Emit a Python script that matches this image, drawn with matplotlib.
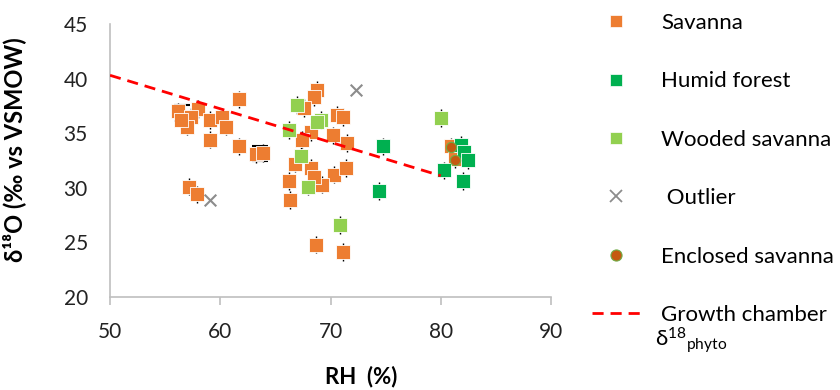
import numpy as np
import matplotlib
matplotlib.use("Agg")
import matplotlib.pyplot as plt
from matplotlib.lines import Line2D

plt.rcParams['font.family'] = ['Lato', 'DejaVu Sans']
plt.rcParams['mathtext.fontset'] = 'custom'
plt.rcParams['mathtext.rm'] = 'Lato'
plt.rcParams['mathtext.it'] = 'Lato:italic'
plt.rcParams['mathtext.bf'] = 'Lato:bold'

# =========================
# data (RH %, d18O permil)
# =========================
savanna_rh = [56.2, 58.0, 57.3, 57.0, 56.4, 59.1, 60.2, 60.5, 59.1, 61.7, 61.7,
              63.2, 63.9, 57.2, 57.9,
              68.8, 68.5, 67.6, 70.6, 71.1, 68.2, 67.4, 70.2, 71.5, 66.8,
              68.2, 70.3, 71.4, 69.2, 68.5, 66.2, 66.3, 68.7, 71.1,
              80.9, 81.3]
savanna_d18o = [37.0, 37.2, 36.5, 35.6, 36.2, 36.2, 36.5, 35.6, 34.4, 38.1, 33.8,
                33.1, 33.2, 30.1, 29.4,
                39.0, 38.3, 37.3, 36.7, 36.5, 35.1, 34.4, 34.8, 34.1, 32.2,
                31.8, 31.2, 31.8, 30.3, 31.0, 30.6, 28.9, 24.8, 24.1,
                33.8, 32.6]

humid_rh = [74.8, 74.4, 81.8, 82.1, 82.5, 80.3, 82.0]
humid_d18o = [33.8, 29.7, 33.9, 33.3, 32.5, 31.6, 30.6]

wooded_rh = [67.0, 69.1, 68.8, 66.2, 67.3, 68.0, 70.9, 80.0]
wooded_d18o = [37.6, 36.2, 36.0, 35.3, 32.9, 30.1, 26.6, 36.4]

outlier_rh = [59.1, 72.3]
outlier_d18o = [28.9, 39.0]

enclosed_rh = [80.9, 81.3]
enclosed_d18o = [33.7, 32.5]

# growth chamber relation (end points)
chamber_rh = [50, 80]
chamber_d18o = [40.3, 31.1]

# points with wide error caps
capped_rh = [56.5, 63.6]
capped_d18o = [36.85, 33.15]

C_SAV = "#ED7D31"
C_HUM = "#00B050"
C_WOOD = "#92D050"
C_OUT = "#8C8C8C"
C_ENC = "#C55A11"
C_AX = "#BFBFBF"

fig = plt.figure(figsize=(8.4, 3.9), dpi=100)
ax = fig.add_axes([0.131, 0.2385, 0.525, 0.70])

# small vertical error bars peeking out under the squares
for xs, ys in [(savanna_rh, savanna_d18o), (humid_rh, humid_d18o), (wooded_rh, wooded_d18o)]:
    ax.errorbar(xs, ys, yerr=0.8, fmt="none", ecolor="black", elinewidth=1.0,
                capsize=0, zorder=1)
ax.errorbar(capped_rh, capped_d18o, yerr=0.7, fmt="none", ecolor="black",
            elinewidth=1.0, capsize=6, capthick=1.5, zorder=1)

ax.plot(chamber_rh, chamber_d18o, color="red", ls=(0, (4, 2.5)), lw=2, zorder=5)

sq = dict(marker="s", s=105, edgecolors="white", linewidths=0.6)
ax.scatter(savanna_rh, savanna_d18o, color=C_SAV, zorder=3, **sq)
ax.scatter(wooded_rh, wooded_d18o, color=C_WOOD, zorder=4, **sq)
ax.scatter(humid_rh, humid_d18o, color=C_HUM, zorder=4, **sq)
ax.scatter(outlier_rh, outlier_d18o, color=C_OUT, marker="x", s=70, linewidths=1.5, zorder=4)
ax.scatter(enclosed_rh, enclosed_d18o, color=C_ENC, marker="o", s=55,
           edgecolors="#70AD47", linewidths=0.8, zorder=6)

ax.set_xlim(50, 90)
ax.set_ylim(20, 45)
ax.set_xticks(np.arange(50, 91, 10))
ax.set_yticks(np.arange(20, 46, 5))
for s in ["top", "right"]:
    ax.spines[s].set_visible(False)
for s in ["left", "bottom"]:
    ax.spines[s].set_color(C_AX)
    ax.spines[s].set_linewidth(1.2)
ax.tick_params(axis="x", length=6, width=1.2, color=C_AX, pad=12, labelsize=15, labelcolor="#222222")
ax.tick_params(axis="y", length=0, pad=16, labelsize=15, labelcolor="#222222")

ax.set_xlabel("RH  (%)", fontsize=16, fontweight="bold")
ax.xaxis.set_label_coords(0.57, -0.25)
ax.set_ylabel("δ¹⁸O (‰ vs VSMOW)", fontsize=17, fontweight="bold")
ax.yaxis.set_label_coords(-0.19, 0.54)

handles = [
    Line2D([], [], ls="none", marker="s", ms=9, color=C_SAV, mec="white", mew=0.5),
    Line2D([], [], ls="none", marker="s", ms=9, color=C_HUM, mec="white", mew=0.5),
    Line2D([], [], ls="none", marker="s", ms=9, color=C_WOOD, mec="white", mew=0.5),
    Line2D([], [], ls="none", marker="x", ms=8, color=C_OUT, mew=1.3),
    Line2D([], [], ls="none", marker="o", ms=8, color=C_ENC, mec="#70AD47", mew=0.8),
    Line2D([], [], color="red", ls=(0, (4, 2.5)), lw=2),
]
labels = ["Savanna", "Humid forest", "Wooded savanna", " Outlier", "Enclosed savanna", "Growth chamber"]
fig.legend(handles, labels, loc="upper left", bbox_to_anchor=(592 / 840, 0.967),
           frameon=False, fontsize=16, handlelength=2.2, handletextpad=0.9,
           labelspacing=1.73, borderpad=0, borderaxespad=0)
fig.text(655 / 840, 1 - 340 / 390, r"δ$^{18}{}_{\mathrm{phyto}}$", fontsize=16,
         va="center", ha="left")

fig.savefig("out.png", dpi=100)
